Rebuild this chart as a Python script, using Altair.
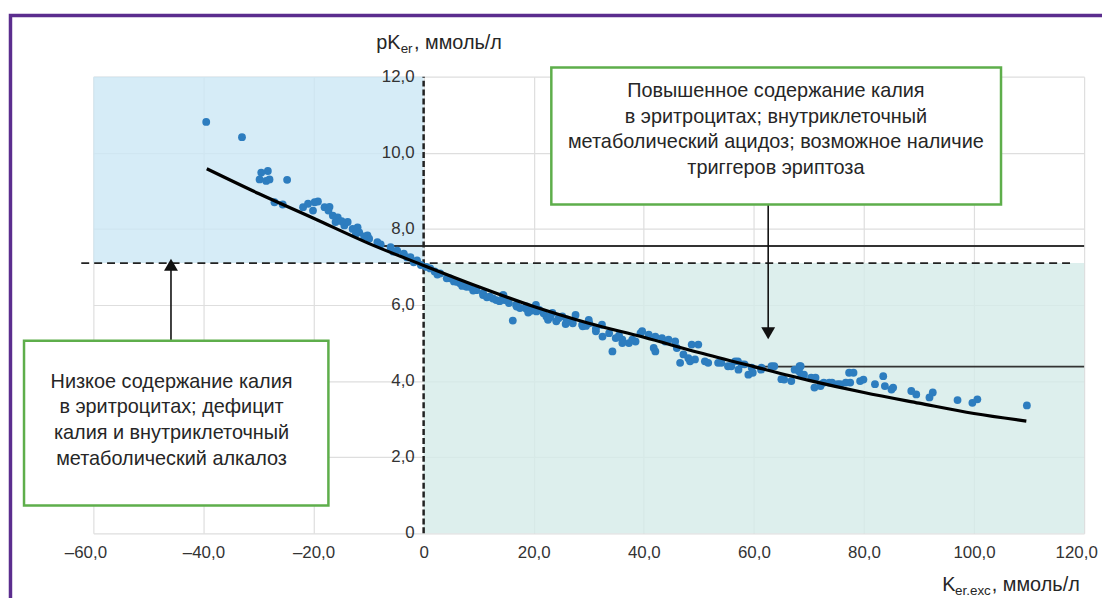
import altair as alt
import pandas as pd

# ---------------- data ----------------
pts_x = [-39.5, -33.0, -28.3, -29.5, -29.8, -28.6, -28.0, -24.8, -27.1, -25.6,
         -21.9, -21.0, -19.8, -19.2, -20.1, -18.0, -17.1, -17.3, -15.6, -16.0,
         -14.4, -13.8, -12.9, -12.0, -11.7, -12.3, -10.2, -9.9, -8.4, -7.8,
         -6.0, -4.8, -3.6, -2.4, -1.2, -5.5, -3.0, -1.8, -0.5, -10.8, -14.9, -16.5,
         1.2, 3.0, 4.8, 6.6, 7.8, 9.6, 10.8, 12.0, 13.2, 14.4, 14.7, 16.2, 16.8,
         18.6, 20.4, 21.0, 22.6, 23.4, 25.2, 26.4, 27.6, 28.8, 30.0, 31.3, 32.4, 33.7,
         4.2, 6.0, 8.4, 10.8, 12.6, 14.5, 16.9, 18.7, 20.5, 22.3, 24.1, 27.1, 28.9,
         30.1, 31.3, 32.5, 2.0, 5.5, 9.0, 11.5, 15.5, 17.5, 19.5, 21.8, 24.5, 26.0,
         29.5, 0.5, 2.5, 7.0, 13.8, 19.0, 23.0, 25.8,
         34.3, 34.9, 36.1, 37.3, 38.5, 39.4, 39.7, 40.9, 42.1, 41.8, 42.1, 43.3,
         43.9, 44.5, 45.7, 46.0, 46.6, 47.2, 48.1, 48.7, 48.4, 49.3, 36.1, 37.9, 35.5,
         49.9, 51.1, 51.7, 53.5, 54.1, 55.3, 55.9, 56.6, 57.1, 57.8, 57.2, 58.3, 59.0,
         59.6, 59.8, 61.3, 61.4, 63.2, 63.7, 65.0, 65.5, 66.8, 67.4, 68.3, 68.5, 68.2,
         68.6, 69.1, 70.4, 71.0, 71.2, 72.1, 72.2, 72.7, 73.7, 74.2, 75.2, 75.7, 76.7,
         77.3, 77.5, 78.1, 79.3, 79.9, 82.0, 83.5, 83.8, 85.0, 85.3, 88.6, 89.5, 91.9,
         92.5, 97.0, 99.7, 100.6, 109.6]
pts_y = [10.81, 10.41, 9.52, 9.48, 9.30, 9.26, 9.30, 9.29, 8.70, 8.64,
         8.57, 8.66, 8.70, 8.72, 8.48, 8.57, 8.58, 8.48, 8.30, 8.18,
         8.09, 8.18, 8.00, 8.04, 7.91, 7.87, 7.83, 7.74, 7.65, 7.59,
         7.52, 7.43, 7.35, 7.26, 7.17, 7.40, 7.25, 7.12, 7.05, 7.80, 8.20, 8.35,
         6.96, 6.83, 6.70, 6.57, 6.48, 6.39, 6.31, 6.22, 6.13, 6.26, 6.13, 5.59, 6.00,
         5.91, 6.00, 5.87, 5.61, 5.79, 5.70, 5.57, 5.74, 5.48, 5.61, 5.39, 5.48, 5.26,
         6.70, 6.61, 6.48, 6.26, 6.17, 6.26, 5.96, 5.96, 5.83, 5.70, 5.57, 5.52, 5.44,
         5.52, 5.31, 5.17, 6.88, 6.62, 6.38, 6.20, 6.05, 5.92, 5.85, 5.78, 5.65, 5.62,
         5.45, 7.00, 6.80, 6.50, 6.10, 5.80, 5.68, 5.50,
         4.78, 5.13, 5.09, 5.00, 5.04, 5.26, 5.31, 5.22, 5.17, 4.87, 4.78, 5.13,
         5.04, 5.09, 5.04, 4.87, 4.48, 4.70, 4.60, 4.96, 4.52, 4.57, 5.00, 5.09, 5.20,
         4.96, 4.52, 4.48, 4.48, 4.48, 4.39, 4.39, 4.52, 4.52, 4.44, 4.30, 4.44, 4.17,
         4.35, 4.22, 4.30, 4.35, 4.39, 4.39, 4.05, 4.04, 4.00, 4.30, 4.39, 4.39, 4.26,
         4.17, 4.17, 4.09, 3.83, 4.09, 3.87, 3.92, 3.96, 3.96, 3.96, 3.92, 3.92, 3.96,
         4.22, 3.96, 4.22, 4.00, 4.04, 3.92, 4.13, 3.87, 3.78, 3.83, 3.74, 3.65, 3.57,
         3.70, 3.50, 3.43, 3.52, 3.36]

curve_x = [-39.4, -30, -20, -10, 0, 10, 20, 30, 40, 50, 60, 70, 80, 90, 100, 109.5]
curve_y = [9.58, 8.93, 8.28, 7.62, 7.04, 6.48, 5.96, 5.52, 5.15, 4.75, 4.38, 4.02, 3.70, 3.42, 3.15, 2.95]

x_ticks = [-60, -40, -20, 0, 20, 40, 60, 80, 100, 120]
x_tick_labels = ["–60,0", "–40,0", "–20,0", "0", "20,0", "40,0", "60,0", "80,0", "100,0", "120,0"]
y_ticks = [0, 2, 4, 6, 8, 10, 12]
y_tick_labels = ["0", "2,0", "4,0", "6,0", "8,0", "10,0", "12,0"]

dash_level = 7.1          # dashed horizontal threshold
upper_ref = 7.55          # upper solid reference line
upper_ref_start = -8.6
lower_ref = 4.38          # lower solid reference line
lower_ref_start = 61.4

box_hi_lines = ["Повышенное содержание калия", "в эритроцитах; внутриклеточный",
                "метаболический ацидоз; возможное наличие", "триггеров эриптоза"]
box_hi_line_y = [11.61, 10.94, 10.28, 9.60]
box_hi_cx = 64.0
box_hi = dict(x1=23.2, x2=104.9, y1=8.64, y2=12.24)

box_lo_lines = ["Низкое содержание калия", "в эритроцитах; дефицит",
                "калия и внутриклеточный", "метаболический алкалоз"]
box_lo_line_y = [3.97, 3.31, 2.64, 1.96]
box_lo_cx = -45.8
box_lo = dict(x1=-72.6, x2=-17.3, y1=0.73, y2=5.06)

arrow_up_x, arrow_up_from, arrow_up_head = -45.9, 5.06, 7.06
arrow_dn_x, arrow_dn_from, arrow_dn_head = 62.6, 8.64, 5.26

# ---------------- styling ----------------
FONT = "Liberation Sans"
TXT = "#262626"
W, H = 998, 460

xs = alt.Scale(domain=[-60, 120], nice=False, zero=False)
ys = alt.Scale(domain=[0, 12], nice=False, zero=False)

label_expr = " : ".join(
    f"datum.value == {v} ? '{l}'" for v, l in zip(x_ticks, x_tick_labels)) + " : ''"

x_axis = alt.Axis(values=x_ticks, grid=True, title=None, domain=False, ticks=False,
                  labelExpr=label_expr, labelFontSize=17, labelFont=FONT,
                  labelColor="#333333", labelPadding=11, gridColor="#dedede",
                  gridWidth=1.2, labelFlush=False,
                  labelOffset={"condition": {"test": "datum.value == 120 || datum.value == -60",
                                             "value": -8}, "value": 0})
y_axis = alt.Axis(values=y_ticks, grid=True, title=None, domain=False, ticks=False,
                  labels=False, gridColor="#dedede", gridWidth=1.2)


def X(f):
    return alt.X(f, type="quantitative", scale=xs, axis=x_axis)


def Y(f):
    return alt.Y(f, type="quantitative", scale=ys, axis=y_axis)


one = pd.DataFrame({"k": [0]})

blue = alt.Chart(pd.DataFrame({"x1": [-60], "x2": [0], "y1": [dash_level], "y2": [12]})).mark_rect(
    color="#cce7f5", opacity=0.8).encode(x=X("x1"), x2="x2", y=Y("y1"), y2="y2")
teal = alt.Chart(pd.DataFrame({"x1": [0], "x2": [120], "y1": [0], "y2": [dash_level]})).mark_rect(
    color="#d4ebe9", opacity=0.8).encode(x=X("x1"), x2="x2", y=Y("y1"), y2="y2")

hdash = alt.Chart(pd.DataFrame({"x1": [-62.2], "x2": [117.8], "y": [dash_level]})).mark_rule(
    color="#222222", strokeWidth=2, strokeDash=[8, 5]).encode(x=X("x1"), x2="x2", y=Y("y"))
vdash = alt.Chart(pd.DataFrame({"x": [0], "y1": [0], "y2": [12]})).mark_rule(
    color="#222222", strokeWidth=2.5, strokeDash=[6, 3]).encode(x=X("x"), y=Y("y1"), y2="y2")

refs = alt.Chart(pd.DataFrame({"x1": [upper_ref_start, lower_ref_start], "x2": [120, 120],
                               "y": [upper_ref, lower_ref]})).mark_rule(
    color="#333333", strokeWidth=1.8).encode(x=X("x1"), x2="x2", y=Y("y"))

arrow_lines = alt.Chart(pd.DataFrame({"x": [arrow_up_x, arrow_dn_x],
                                      "y1": [arrow_up_from, arrow_dn_from],
                                      "y2": [arrow_up_head, arrow_dn_head]})).mark_rule(
    color="#111111", strokeWidth=1.6).encode(x=X("x"), y=Y("y1"), y2="y2")
head_up = alt.Chart(pd.DataFrame({"x": [arrow_up_x], "y": [arrow_up_head]})).mark_point(
    shape="triangle-up", filled=True, size=196, color="#111111", opacity=1).encode(x=X("x"), y=Y("y"))
head_dn = alt.Chart(pd.DataFrame({"x": [arrow_dn_x], "y": [arrow_dn_head]})).mark_point(
    shape="triangle-down", filled=True, size=196, color="#111111", opacity=1).encode(x=X("x"), y=Y("y"))

dots = alt.Chart(pd.DataFrame({"x": pts_x, "y": pts_y})).mark_circle(
    size=62, color="#2d7dbf", opacity=1).encode(x=X("x"), y=Y("y"))

curve = alt.Chart(pd.DataFrame({"x": curve_x, "y": curve_y})).mark_line(
    color="#000000", strokeWidth=3.2, interpolate="monotone").encode(x=X("x"), y=Y("y"))

boxes = alt.Chart(pd.DataFrame({"x1": [box_hi["x1"], box_lo["x1"]], "x2": [box_hi["x2"], box_lo["x2"]],
                                "y1": [box_hi["y1"], box_lo["y1"]], "y2": [box_hi["y2"], box_lo["y2"]]})).mark_rect(
    fill="white", stroke="#5eae4b", strokeWidth=2.5).encode(x=X("x1"), x2="x2", y=Y("y1"), y2="y2")

box_text = alt.Chart(pd.DataFrame({
    "t": box_hi_lines + box_lo_lines,
    "x": [box_hi_cx] * 4 + [box_lo_cx] * 4,
    "y": box_hi_line_y + box_lo_line_y})).mark_text(
    font=FONT, fontSize=20, color=TXT, align="center", baseline="middle").encode(
    x=X("x"), y=Y("y"), text="t:N")

ylabels = alt.Chart(pd.DataFrame({"x": [0] * len(y_ticks), "y": y_ticks, "t": y_tick_labels})).mark_text(
    font=FONT, fontSize=17, color="#333333", align="right", baseline="middle", dx=-9).encode(
    x=X("x"), y=Y("y"), text="t:N")


def label(txt, px, py, size):
    return alt.Chart(one).mark_text(text=txt, font=FONT, fontSize=size, color=TXT,
                                    align="left", baseline="alphabetic").encode(
        x=alt.value(px), y=alt.value(py))


titles = [
    label("pK", 285, -28, 20), label("er", 309.5, -24, 13.5), label(", ммоль/л", 323, -28, 20),
    label("K", 855, 518, 20), label("er.exc", 868, 522, 13.5), label(", ммоль/л", 905, 518, 20),
]

frame = alt.Chart(one).mark_rect(fill="white", fillOpacity=0, stroke="#5b2d8e", strokeWidth=3.5).encode(
    x=alt.value(-83.5), x2=alt.value(1040), y=alt.value(-61.5), y2=alt.value(700))

chart = alt.layer(
    blue, teal, refs, hdash, vdash, dots, curve, arrow_lines, head_up, head_dn,
    boxes, box_text, ylabels, *titles, frame
).properties(
    width=W, height=H,
    autosize=alt.AutoSizeParams(type="none"),
    padding={"left": 86, "top": 67, "right": 18, "bottom": 63},
    background="white",
).configure_view(strokeWidth=0)

chart.save("out.html", embed_options={"renderer": "svg", "actions": False})
